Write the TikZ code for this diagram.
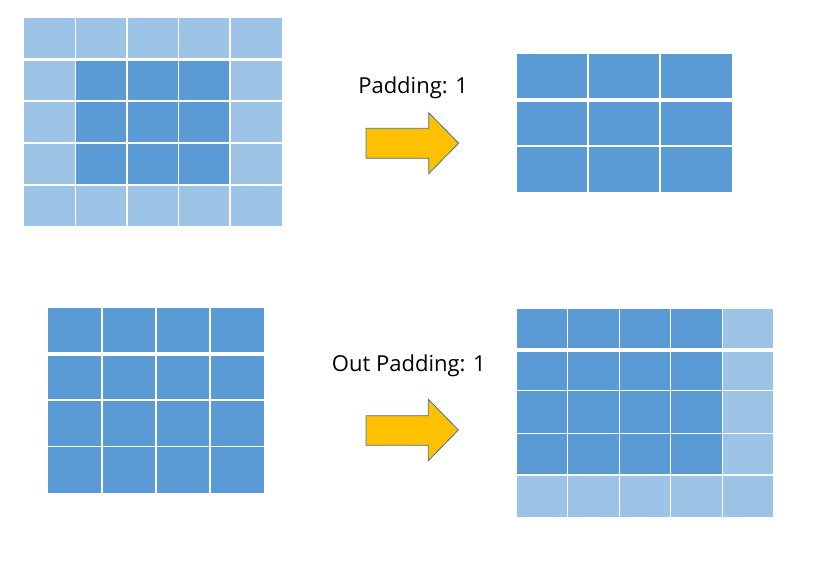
\documentclass[tikz,border=0pt]{standalone}
\usepackage{fontspec}
\setmainfont{Open Sans}
\usepackage{tikz}
\usetikzlibrary{positioning}
\definecolor{cellblue}{RGB}{91,155,213}
\definecolor{padblue}{RGB}{157,195,230}
\definecolor{arrowyellow}{RGB}{255,192,0}
\definecolor{arrowline}{RGB}{65,113,156}

\begin{document}
\begin{tikzpicture}[x=0.75pt, y=-0.75pt,
    gridline/.style={white, line width=1.1pt},
    headline/.style={white, line width=2.6pt},
    blockarrow/.style={fill=arrowyellow, draw=arrowline, line width=0.6pt, line join=miter},
    lbl/.style={font=\fontsize{16.5}{20}\selectfont, anchor=base west, inner sep=0pt}]

\useasboundingbox (0,0) rectangle (816,564);

% 위 왼쪽: 5x5 입력 (패딩 1)
\fill[padblue] (24,18) rectangle (281.5,226);
\fill[cellblue] (75.5,59.3) rectangle (230,185);
\draw[gridline] (75.5,18) -- (75.5,226) (127,18) -- (127,226)
    (178.5,18) -- (178.5,226) (230,18) -- (230,226);
\draw[gridline] (24,101) -- (281.5,101) (24,143) -- (281.5,143) (24,185) -- (281.5,185);
\draw[headline] (24,59.3) -- (281.5,59.3);

% 위 화살표 + 글자
\node[lbl] (padlabel) at (358,93) {Padding: 1};
\draw[blockarrow] (366,128.3) -- (428.7,128.3) -- (428.7,112.7) -- (458.7,143.2)
    -- (428.7,173.7) -- (428.7,158.3) -- (366,158.3) -- cycle;

% 위 오른쪽: 3x3 결과
\fill[cellblue] (516.5,54) rectangle (732,192);
\draw[gridline] (588,54) -- (588,192) (660,54) -- (660,192);
\draw[gridline] (516.5,146) -- (732,146);
\draw[headline] (516.5,100) -- (732,100);

% 아래 왼쪽: 4x4 입력
\fill[cellblue] (48.3,308) rectangle (263.7,492.7);
\draw[gridline] (102,308) -- (102,492.7) (156,308) -- (156,492.7) (210,308) -- (210,492.7);
\draw[gridline] (48.3,400) -- (263.7,400) (48.3,446.3) -- (263.7,446.3);
\draw[headline] (48.3,353.8) -- (263.7,353.8);

% 아래 화살표 + 글자
\node[lbl] (outlabel) at (331.7,371.7) {Out Padding: 1};
\draw[blockarrow] (366,415.7) -- (428.3,415.7) -- (428.3,399.3) -- (458.3,430)
    -- (428.3,460.7) -- (428.3,445.3) -- (366,445.3) -- cycle;

% 아래 오른쪽: 5x5 결과 (오른쪽/아래 패딩)
\fill[padblue] (516.7,309) rectangle (773.3,516.7);
\fill[cellblue] (516.7,309) rectangle (722.3,475);
\draw[gridline] (567.7,309) -- (567.7,516.7) (619.3,309) -- (619.3,516.7)
    (670.7,309) -- (670.7,516.7) (722.3,309) -- (722.3,516.7);
\draw[gridline] (516.7,390.7) -- (773.3,390.7) (516.7,433.3) -- (773.3,433.3)
    (516.7,475) -- (773.3,475);
\draw[headline] (516.7,350) -- (773.3,350);

\end{tikzpicture}
\end{document}
